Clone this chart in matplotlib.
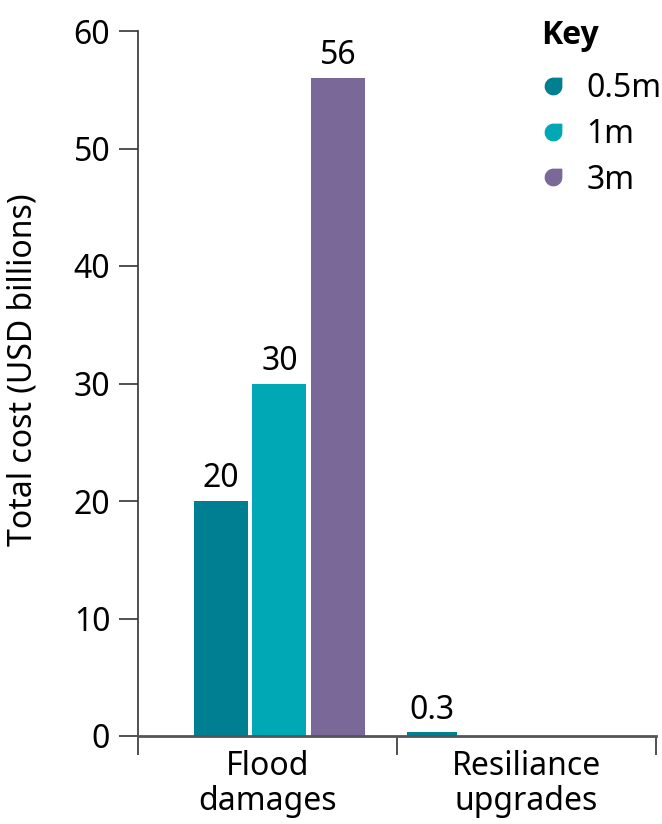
import numpy as np
import matplotlib.pyplot as plt
from matplotlib.path import Path
from matplotlib.lines import Line2D

plt.rcParams["font.family"] = ["Noto Sans", "DejaVu Sans"]

categories = ["Flood\ndamages", "Resiliance\nupgrades"]
scenarios = ["0.5m", "1m", "3m"]
flood_values = [20, 30, 56]
resilience_values = [0.3]
value_labels_flood = ["20", "30", "56"]
value_labels_res = ["0.3"]
colors = ["#007E92", "#00A8B5", "#7A6899"]

fs = 23

fig = plt.figure(figsize=(6.62, 8.24), dpi=100)
ax = fig.add_axes([138 / 662, 1 - 736 / 824, (656 - 138) / 662, (736 - 31) / 824])

# bar placement inside each category slot (slot width = 1)
flood_offsets = [-0.18, 0.046, 0.272]
bar_w = 0.208
for i, v in enumerate(flood_values):
    b = ax.bar(0.5 + flood_offsets[i], v, width=bar_w, color=colors[i])
    ax.bar_label(b, labels=[value_labels_flood[i]], padding=4, fontsize=fs)

b = ax.bar(1.5 - 0.365, resilience_values[0], width=0.192, color=colors[0])
ax.bar_label(b, labels=value_labels_res, padding=4, fontsize=fs)

ax.set_xlim(0, 2)
ax.set_ylim(0, 60)
ax.set_yticks(np.arange(0, 61, 10))
ax.set_xticks([0.5, 1.5])
ax.set_xticklabels(categories, fontsize=fs, linespacing=1.1)
ax.set_xticks([0, 1, 2], minor=True)
ax.tick_params(axis="x", which="major", length=0, pad=10)
ax.tick_params(axis="x", which="minor", length=14, width=1.2, color="#333333")
ax.tick_params(axis="y", length=14, width=1.2, color="#333333", labelsize=fs, pad=6)
ax.set_ylabel("Total cost (USD billions)", fontsize=fs)
ax.yaxis.set_label_coords(-0.19, 0.52)

for s in ["top", "right"]:
    ax.spines[s].set_visible(False)
ax.spines["left"].set_color("#333333")
ax.spines["bottom"].set_color("#555555")
ax.spines["left"].set_linewidth(1.2)
ax.spines["bottom"].set_linewidth(2)

# teardrop legend marker
arc = Path.arc(90, 360)
verts = list(arc.vertices) + [(1, 1), (0, 1), (0, 1)]
codes = list(arc.codes) + [Path.LINETO, Path.LINETO, Path.CLOSEPOLY]
drop = Path(verts, codes)

handles = [Line2D([], [], marker=drop, linestyle="none", markersize=12,
                  markerfacecolor=c, markeredgecolor=c) for c in colors]
leg = fig.legend(handles, scenarios, loc="upper left", bbox_to_anchor=(535 / 662, 1 - 72 / 824),
                 frameon=False, fontsize=fs, borderaxespad=0, borderpad=0,
                 handletextpad=0.5, labelspacing=0.4, handlelength=1.1)
fig.text(541 / 662, 1 - 36 / 824, "Key", fontsize=fs, fontweight="bold",
         family=["Open Sans", "DejaVu Sans"], va="center", ha="left")

fig.savefig("out.png", dpi=100)
